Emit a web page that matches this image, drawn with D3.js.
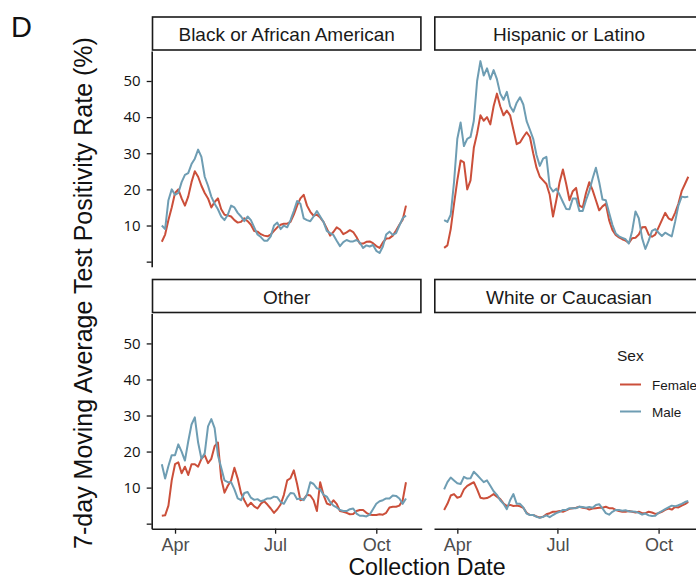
<!DOCTYPE html>
<html>
<head>
<meta charset="utf-8">
<script src="https://cdn.jsdelivr.net/npm/d3@7"></script>
<style>
  html, body { margin: 0; padding: 0; background: #ffffff; }
  svg { display: block; }
</style>
</head>
<body>
<svg id="chart" width="696" height="580"></svg>
<script>
// ---------------- DATA ----------------
// Series sampled every 3 days starting 2020-03-20
const seriesStart = "2020-03-20";
const stepDays = 3;

const facetNames = ["Black or African American", "Hispanic or Latino", "Other", "White or Caucasian"];
const sexLevels = ["Female", "Male"];

const blackFemale = [5.5, 7.5, 11.5, 15, 19, 20, 17.5, 15.5, 18, 22,
  25, 23.5, 21, 19, 17.5, 15, 16.5, 17.5, 14.5, 13,
  12.8, 12.5, 11.5, 10.8, 11, 12, 11.2, 10.2, 8.5, 8.3,
  7.6, 7.2, 7, 7.5, 8.5, 9.5, 10.2, 10.5, 10.5, 11,
  13, 15.5, 17.5, 18.5, 15.5, 13.8, 12.7, 13, 12.2, 11,
  9.2, 7.2, 8.2, 9.5, 8.9, 7.6, 8.1, 8.7, 8.2, 6.8,
  5, 5, 5.5, 5.6, 5.1, 4.3, 3.8, 5.3, 6.4, 6.5,
  7.2, 8.6, 10.2, 11.6, 15.5];
const blackMale = [10, 9, 17, 20, 18.5, 19, 22, 24, 24.5, 27,
  28.5, 31, 29, 23.5, 21, 18, 16, 14.5, 12.5, 11.5,
  13, 15.5, 15, 13.5, 12.5, 11.2, 12.5, 11.5, 9.5, 7.5,
  6.8, 5.8, 5.8, 7, 10, 10.8, 9, 10, 9.5, 11.5,
  14, 16.8, 16, 12, 11.5, 11.2, 12.5, 14, 12.5, 11,
  8.5, 7.9, 7.4, 5.8, 4.3, 5.4, 6, 5.6, 5.6, 6,
  5.3, 3.8, 4.5, 4.2, 4.6, 3, 2.4, 4.2, 7.5, 8.3,
  7.4, 7.9, 10, 12, 12.8];

const hispanicFemale = [3.8, 4.5, 9, 16, 22.5, 28, 27.5, 20, 22.5, 31.5,
  35.5, 40.5, 39, 40, 38, 43, 46.5, 43, 40.5, 41.8,
  40.5, 36.5, 32.5, 33, 34.5, 35.8, 34.5, 30, 26, 23.5,
  22.5, 21.5, 18.5, 12.5, 17, 22, 25.5, 21.5,
  17, 19.5, 20.4, 15.5, 15, 19, 22, 19.8, 17, 14.2,
  15.3, 16, 11.5, 8.8, 7.4, 6.7, 6.2, 5.8, 5.2, 6.5,
  6.6, 7.5, 9.5, 9.6, 7.5, 6.9, 7.5, 9.5, 11.5, 13.5,
  12, 11.5, 13.5, 16, 19.5, 21.5, 23.5];
const hispanicMale = [11.5, 11, 13, 22, 34, 38.5, 32, 34, 34.5, 39,
  50, 55.5, 51.5, 53.5, 50.5, 53, 50.5, 46.5, 44.8, 47,
  43, 41.5, 44, 45.5, 43.5, 38.9, 36.5, 34, 29.5, 26.5,
  28.5, 29, 20.8, 19.4, 20.2, 18.5, 16.5, 14.6,
  14.5, 17.5, 17.5, 14, 14, 17, 19.5, 23, 26, 22,
  17.2, 17, 13.5, 10.2, 7.8, 7, 6.6, 6.2, 5, 8.5,
  13.9, 12, 6.5, 3.5, 5.8, 8.5, 9, 8, 7.1, 8,
  7.5, 7, 11, 15.5, 18, 17.8, 18];

const otherFemale = [2.2, 2.3, 5, 12, 16.5, 17, 14, 15.8, 13.5, 16.5,
  16.5, 15.8, 18, 19, 16.8, 18, 21.5, 22.5, 12.5, 8.6,
  10.5, 12, 15.5, 12.5, 8.5, 6.5, 4.8, 5.8, 4.8, 4.2,
  5.5, 6.2, 5.3, 4.2, 3, 4, 5.3, 8,
  12, 12.6, 14.8, 11, 6.5, 6.8, 8, 7.8, 6.5, 3.5,
  11.5, 8, 5.6, 5.2, 6.5, 5.5, 3.5, 3.3, 3, 2.6,
  2.7, 3.5, 3.8, 3.8, 3, 2.5, 2.4, 2.4, 2.6, 2.5,
  3, 4.5, 4.7, 4.7, 5, 6.5, 11.5];
const otherMale = [16.5, 12.5, 16, 19, 19, 22, 20, 17.5, 22.8, 27.5,
  29.5, 22.5, 18, 19.5, 27, 29, 26.5, 19, 15.5, 12,
  11.5, 11.5, 9.5, 7, 6.5, 8.5, 8.8, 7.2, 6.6, 6.8,
  6.2, 6.5, 7, 7, 7.5, 7.3, 6, 5.5,
  7.2, 8.5, 8.4, 6.8, 7, 6.5, 8, 11.5, 11, 9.8,
  9.5, 8, 7.5, 6, 5, 4.5, 3.8, 3.5, 3.5, 4,
  4.2, 2.8, 2.2, 2.2, 2, 2.5, 4, 5.5, 6.2, 6.5,
  7, 7, 7.8, 7.7, 7, 5.5, 7];

const whiteFemale = [3.8, 5.5, 7.8, 8.2, 7.2, 7.5, 9.5, 10.5, 11, 11.5,
  9.5, 7.2, 7, 7.1, 7.6, 8.2, 7.5, 6.8, 5.6, 4.9,
  5.2, 4.9, 5, 4.8, 4.4, 3, 2.4, 2.4, 2, 1.7,
  1.9, 2.6, 2.9, 3.3, 3.3, 3.5, 3.3, 3.7, 4.1, 4.3,
  4.4, 4.7, 4.4, 4.3, 3.9, 4.2, 4.3, 4.4, 4.4, 4.7,
  4.3, 4.3, 3.8, 3.5, 3.3, 3.3, 3.5, 3.3, 3.1, 3.3,
  2.9, 2.9, 3.3, 3.1, 2.7, 2.9, 3.3, 3.8, 4.2, 3.9,
  4.6, 4.5, 5, 5.4, 6];
const whiteMale = [9.5, 11.5, 12.8, 12, 11.2, 11, 13, 12.5, 12.6, 14.4,
  13.5, 12.5, 11.5, 12, 10.5, 9, 8, 6.5, 5.5, 4,
  6.5, 8.2, 5.5, 5.5, 4.5, 2.8, 2.4, 2.4, 1.9, 1.6,
  1.9, 2.3, 1.8, 2.4, 2.9, 3.3, 3.8, 3.8, 4.3, 4.3,
  4.3, 4.7, 4.6, 4.4, 4.6, 4.4, 5.2, 5.4, 4.2, 2.9,
  2.5, 3.3, 3.8, 3.8, 3.6, 3.7, 3.4, 3.4, 3.3, 3,
  2.5, 2.8, 2.3, 2.1, 2.2, 3, 3.5, 4, 4.5, 5,
  4.8, 5.1, 5.5, 6, 6.3];

const yTickValues = [0, 10, 20, 30, 40, 50];
const yTickLabels = ["", "10", "20", "30", "40", "50"];
const xTickDates = ["2020-04-01", "2020-07-01", "2020-10-01"];
const xTickLabels = ["Apr", "Jul", "Oct"];

// ---------------- LAYOUT / STYLE ----------------
const colors = { Female: "#CB4F3A", Male: "#6E9DB3" };
const parse = d3.timeParse("%Y-%m-%d");
const t0 = parse(seriesStart);

const svg = d3.select("#chart");
const colX = [151.7, 434];
const panelW = 270;
const rows = [{ top: 51, bottom: 266.7 }, { top: 313.5, bottom: 528.7 }];
const stripH = 33.5;

const x0 = new Date(2020, 2, 10, 19);
const x1 = new Date(2020, 10, 11, 7);

const facets = [
  { name: facetNames[0], col: 0, row: 0, series: { Female: blackFemale, Male: blackMale } },
  { name: facetNames[1], col: 1, row: 0, series: { Female: hispanicFemale, Male: hispanicMale } },
  { name: facetNames[2], col: 0, row: 1, series: { Female: otherFemale, Male: otherMale } },
  { name: facetNames[3], col: 1, row: 1, series: { Female: whiteFemale, Male: whiteMale } }
];

const axisFont = "'Liberation Sans', Arial, sans-serif";

facets.forEach(f => {
  const left = colX[f.col], right = left + panelW;
  const r = rows[f.row];
  const x = d3.scaleTime().domain([x0, x1]).range([left, right]);
  const y = d3.scaleLinear().domain([-1.4, 58.3]).range([r.bottom, r.top]);
  const g = svg.append("g");

  // strip
  g.append("rect")
    .attr("x", left + 0.8).attr("y", r.top - stripH - 0.5)
    .attr("width", panelW - 1.6).attr("height", stripH - 0.5)
    .attr("fill", "#ffffff").attr("stroke", "#1a1a1a").attr("stroke-width", 1.6);
  g.append("text")
    .attr("x", left + panelW / 2).attr("y", r.top - stripH / 2 + 0.5)
    .attr("text-anchor", "middle").attr("dominant-baseline", "central")
    .attr("font-family", axisFont).attr("font-size", 19).attr("fill", "#1a1a1a")
    .text(f.name);

  // lines
  const line = d3.line()
    .x((v, i) => x(d3.timeDay.offset(t0, i * stepDays)))
    .y(v => y(v));
  sexLevels.forEach(s => {
    g.append("path")
      .datum(f.series[s])
      .attr("d", line)
      .attr("fill", "none")
      .attr("stroke", colors[s])
      .attr("stroke-width", 2)
      .attr("stroke-linejoin", "round");
  });

  // y axis (left column only)
  if (f.col === 0) {
    const ya = g.append("g").attr("transform", `translate(${left},0)`)
      .call(d3.axisLeft(y).tickValues(yTickValues)
        .tickFormat((d, i) => yTickLabels[i]).tickSize(5).tickSizeOuter(0).tickPadding(6));
    ya.select(".domain").attr("stroke", "#1a1a1a").attr("stroke-width", 1.6);
    ya.selectAll(".tick line").attr("stroke", "#1a1a1a").attr("stroke-width", 1.3);
    ya.selectAll(".tick text").attr("font-family", "'Open Sans', sans-serif")
      .attr("font-size", 15).attr("fill", "#111");
  }
  // x axis (bottom row only)
  if (f.row === 1) {
    const xa = g.append("g").attr("transform", `translate(0,${r.bottom})`)
      .call(d3.axisBottom(x).tickValues(xTickDates.map(parse))
        .tickFormat((d, i) => xTickLabels[i]).tickSize(5).tickSizeOuter(0).tickPadding(5));
    xa.select(".domain").attr("stroke", "#1a1a1a").attr("stroke-width", 1.6);
    xa.selectAll(".tick line").attr("stroke", "#1a1a1a").attr("stroke-width", 1.3);
    xa.selectAll(".tick text").attr("font-family", axisFont)
      .attr("font-size", 18).attr("fill", "#4d4d4d");
  }
});

// legend
const lg = svg.append("g");
lg.append("text").attr("x", 617).attr("y", 361)
  .attr("font-family", axisFont).attr("font-size", 15.5).attr("fill", "#1a1a1a").text("Sex");
sexLevels.forEach((s, i) => {
  const yy = 384.5 + i * 27;
  lg.append("line").attr("x1", 620).attr("x2", 641).attr("y1", yy).attr("y2", yy)
    .attr("stroke", colors[s]).attr("stroke-width", 2);
  lg.append("text").attr("x", 652).attr("y", yy + 5)
    .attr("font-family", axisFont).attr("font-size", 13.5).attr("fill", "#1a1a1a").text(s);
});

// axis titles
svg.append("text")
  .attr("transform", "translate(92,293) rotate(-90)")
  .attr("text-anchor", "middle")
  .attr("font-family", axisFont).attr("font-size", 25).attr("fill", "#111")
  .text("7-day Moving Average Test Positivity Rate (%)");
svg.append("text")
  .attr("x", 427).attr("y", 575)
  .attr("text-anchor", "middle")
  .attr("font-family", axisFont).attr("font-size", 23.2).attr("fill", "#111")
  .text("Collection Date");
svg.append("text")
  .attr("x", 11).attr("y", 37)
  .attr("font-family", axisFont).attr("font-size", 29).attr("fill", "#111")
  .text("D");
</script>
</body>
</html>
